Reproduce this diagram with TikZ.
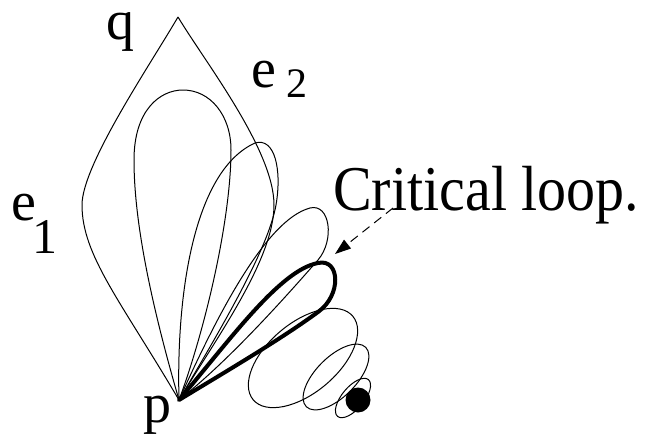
\documentclass[tikz,border=0pt]{standalone}
\usepackage{fontspec}
\setmainfont{Liberation Serif}
\usetikzlibrary{arrows.meta}
\begin{document}
\begin{tikzpicture}[x=1pt,y=-1pt,
  thinline/.style={line width=1pt},
  critical/.style={line width=4pt, line join=round},
  lbl/.style={inner sep=0pt, anchor=base west},
  bigtext/.style={font=\fontsize{56}{60}\selectfont},
  subtext/.style={font=\fontsize{#1}{#1}\selectfont}]
\useasboundingbox (0,0) rectangle (646,434);
\clip (0,0) rectangle (646,434);
\coordinate (P) at (179,400);
\coordinate (Q) at (178,17);
% outer leaf e1 / e2
\draw[thinline] (P) .. controls (120,300) and (82,255) .. (82,205)
                    .. controls (82,165) and (150,65) .. (Q);
\draw[thinline] (Q) .. controls (205,62) and (274,150) .. (274,205)
                    .. controls (274,260) and (215,340) .. (P);
% big oval loop
\draw[thinline] (P) .. controls (150,300) and (134,220) .. (134,160)
                    .. controls (134,110) and (160,90) .. (183,90)
                    .. controls (210,90) and (231,115) .. (231,150)
                    .. controls (231,220) and (205,330) .. (P);
% third loop
\draw[thinline] (P) .. controls (176,290) and (195,170) .. (255,143)
                    .. controls (275,137) and (282,170) .. (276,205)
                    .. controls (268,250) and (220,330) .. (P);
% fourth loop
\draw[thinline] (P) .. controls (215,320) and (265,220) .. (310,208)
                    .. controls (330,203) and (335,240) .. (318,260)
                    .. controls (290,292) and (230,360) .. (P);
% critical loop
\draw[critical] (P) .. controls (230,340) and (280,270) .. (318,263)
                    .. controls (340,258) and (342,295) .. (318,312)
                    .. controls (280,340) and (220,375) .. (P) -- cycle;
% free loops shrinking to the point
\coordinate (E5) at (303,358);
\coordinate (E6) at (336,377);
\coordinate (E7) at (353,398);
\draw[thinline, rotate around={40:(E5)}] (E5) ellipse [x radius=65pt, y radius=35pt];
\draw[thinline, rotate around={45:(E6)}] (E6) ellipse [x radius=42pt, y radius=20pt];
\draw[thinline, rotate around={50:(E7)}] (E7) ellipse [x radius=24pt, y radius=11pt];
\fill (358,400) circle [radius=12.5pt];
% labels
\node[lbl, bigtext, text height=20pt, text depth=18pt] (lq) at (106,39) {q};
\node[lbl, bigtext] (le2) at (251,87) {e};
\node[lbl, subtext=42] (le2s) at (286,97) {2};
\node[lbl, bigtext] (le1) at (11,220) {e};
\node[lbl, subtext=50] (le1s) at (32,253) {1};
\node[lbl, bigtext, text height=26pt, text depth=10pt] (lp) at (143,422) {p};
\node[lbl, font=\fontsize{58}{60}\selectfont] (lcrit) at (333,210) {\scalebox{1}[1.1]{Critical loop.}};
\coordinate (arrs) at (393,208);
\coordinate (arrt) at (335,254);
\draw[thinline, dash pattern=on 9pt off 6pt, -{Triangle[length=16pt,width=11pt]}] (arrs) -- (arrt);
\end{tikzpicture}
\end{document}
